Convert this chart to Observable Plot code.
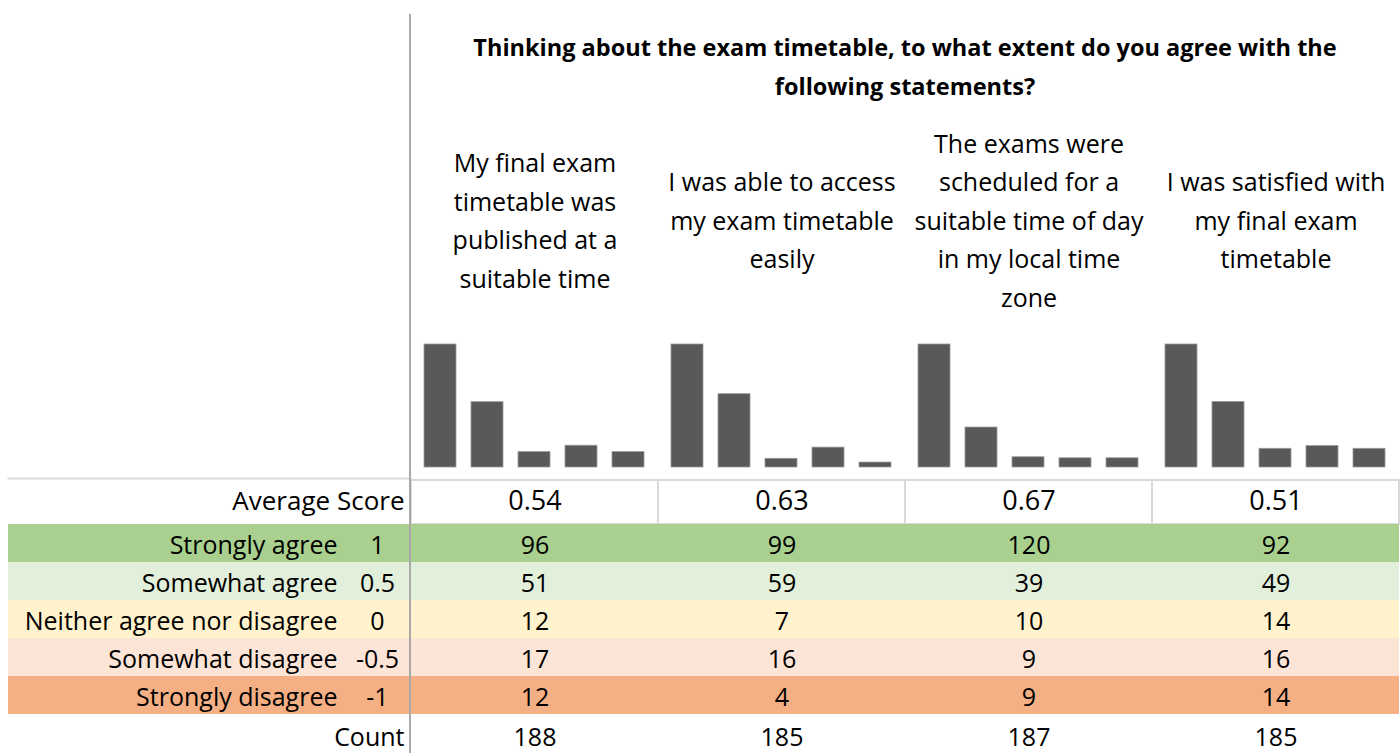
<!DOCTYPE html>
<html>
<head>
<meta charset="utf-8">
<script src="https://cdn.jsdelivr.net/npm/d3@7"></script>
<script src="https://cdn.jsdelivr.net/npm/@observablehq/plot@0.6"></script>
<style>
  body { margin: 0; background: #fff; }
  #root { position: relative; width: 1400px; height: 753px; overflow: hidden; font-family: "Open Sans", Lato, sans-serif; color: #000; }
  #title { position: absolute; left: 410px; width: 990px; top: 28px; text-align: center; font-weight: bold; font-size: 23.5px; line-height: 39px; white-space: pre-line; }
  #vline { position: absolute; left: 409px; top: 14px; width: 2px; height: 739px; background: #a9a9a9; z-index: 5; }
  #bars { position: absolute; left: 0; top: 0; }
  #tableL { position: absolute; left: 0; top: 477px; }
  #tableR { position: absolute; left: 410px; top: 477px; }
  svg { display: block; overflow: visible; }
</style>
</head>
<body>
<div id="root">
  <div id="bars"></div>
  <div id="tableL"></div>
  <div id="tableR"></div>
  <div id="title"></div>
  <div id="vline"></div>
</div>
<script>
// ---- data ----
const titleText = "Thinking about the exam timetable, to what extent do you agree with the\nfollowing statements?";
const statements = [
  "My final exam\ntimetable was\npublished at a\nsuitable time",
  "I was able to access\nmy exam timetable\neasily",
  "The exams were\nscheduled for a\nsuitable time of day\nin my local time\nzone",
  "I was satisfied with\nmy final exam\ntimetable"
];
const responses = ["Strongly agree", "Somewhat agree", "Neither agree nor disagree", "Somewhat disagree", "Strongly disagree"];
const responseScores = ["1", "0.5", "0", "-0.5", "-1"];
const rowColors = ["#a9d08e", "#e2efda", "#fff2cc", "#fce4d6", "#f4b084"];
const stronglyAgree    = [96, 99, 120, 92];
const somewhatAgree    = [51, 59, 39, 49];
const neitherAgree     = [12, 7, 10, 14];
const somewhatDisagree = [17, 16, 9, 16];
const stronglyDisagree = [12, 4, 9, 14];
const averageScore = [0.54, 0.63, 0.67, 0.51];
const counts = [188, 185, 187, 185];
const rowNames = ["Average Score", ...responses, "Count"];

// ---- derived tables ----
const series = [stronglyAgree, somewhatAgree, neitherAgree, somewhatDisagree, stronglyDisagree];
const long = [];
statements.forEach((s, i) => {
  const colMax = d3.max(series, v => v[i]);
  responses.forEach((r, j) => long.push({statement: s, response: r, count: series[j][i], share: series[j][i] / colMax}));
});
const avgRows = statements.map((s, i) => ({statement: s, row: "Average Score", text: averageScore[i].toFixed(2)}));
const countRows = statements.map((s, i) => ({statement: s, row: "Count", text: String(counts[i])}));
const leftRows = responses.map((r, j) => ({row: r, score: responseScores[j]}));

const FONT = "'Open Sans', Lato, sans-serif";
const FS = 25;       // body text size
const FS_AVG = 26;   // "Average Score" label
const FS_AVGN = 27;  // average score numbers
document.getElementById("title").textContent = titleText;

// ---- bars + question headers ----
const bars = Plot.plot({
  width: 1400, height: 477,
  marginLeft: 410, marginRight: 0, marginTop: 344, marginBottom: 10,
  style: {fontFamily: FONT, background: "transparent"},
  fx: {domain: statements, padding: 0, axis: null},
  x: {domain: responses, paddingInner: 0.31, paddingOuter: 0.24, axis: null},
  y: {domain: [0, 1], axis: null},
  marks: [
    Plot.barY(long, {fx: "statement", x: "response", y: "share", fill: "#595959", stroke: "#9a9a9a", strokeWidth: 0.8}),
    Plot.text(statements, {fx: d => d, text: d => d, frameAnchor: "top", dy: -127, lineAnchor: "middle", lineHeight: 38.5 / FS, fontSize: FS, fontFamily: FONT, fill: "#000"})
  ]
});
document.getElementById("bars").appendChild(bars);

// ---- left label table ----
const tableL = Plot.plot({
  width: 410, height: 276,
  marginLeft: 8, marginRight: 0, marginTop: 7, marginBottom: 0,
  style: {fontFamily: FONT, background: "transparent"},
  y: {domain: rowNames, padding: 0, axis: null},
  color: {domain: responses, range: rowColors},
  marks: [
    Plot.frame({anchor: "top", stroke: "#d9d9d9", strokeWidth: 2, insetTop: -6}),
    Plot.cell(leftRows, {y: "row", fill: "row"}),
    Plot.text(leftRows, {y: "row", text: "row", frameAnchor: "right", textAnchor: "end", dx: -73, dy: 2, fontSize: FS, fontFamily: FONT, fill: "#000"}),
    Plot.text(leftRows, {y: "row", text: "score", frameAnchor: "right", textAnchor: "middle", dx: -33, dy: 2, fontSize: FS, fontFamily: FONT, fill: "#000"}),
    Plot.text(["Average Score"], {y: d => d, text: d => d, frameAnchor: "right", textAnchor: "end", dx: -6, dy: -4, fontSize: FS_AVG, fontFamily: FONT, fill: "#000"}),
    Plot.text(["Count"], {y: d => d, text: d => d, frameAnchor: "right", textAnchor: "end", dx: -6, dy: 4, fontSize: FS, fontFamily: FONT, fill: "#000"})
  ]
});
document.getElementById("tableL").appendChild(tableL);

// ---- right values table ----
const tableR = Plot.plot({
  width: 990, height: 276,
  marginLeft: 0, marginRight: 0, marginTop: 7, marginBottom: 0,
  style: {fontFamily: FONT, background: "transparent"},
  x: {domain: statements, padding: 0, axis: null},
  y: {domain: rowNames, padding: 0, axis: null},
  color: {domain: responses, range: rowColors},
  marks: [
    Plot.cell(avgRows, {x: "statement", y: "row", fill: "white", stroke: "#d9d9d9", strokeWidth: 2, insetTop: -6}),
    Plot.cell(long, {x: "statement", y: "response", fill: "response"}),
    Plot.text(avgRows, {x: "statement", y: "row", text: "text", dy: -4, fontSize: FS_AVGN, fontFamily: FONT, fill: "#000"}),
    Plot.text(long, {x: "statement", y: "response", text: d => String(d.count), dy: 2, fontSize: FS, fontFamily: FONT, fill: "#000"}),
    Plot.text(countRows, {x: "statement", y: "row", text: "text", dy: 4, fontSize: FS, fontFamily: FONT, fill: "#000"})
  ]
});
document.getElementById("tableR").appendChild(tableR);
</script>
</body>
</html>
